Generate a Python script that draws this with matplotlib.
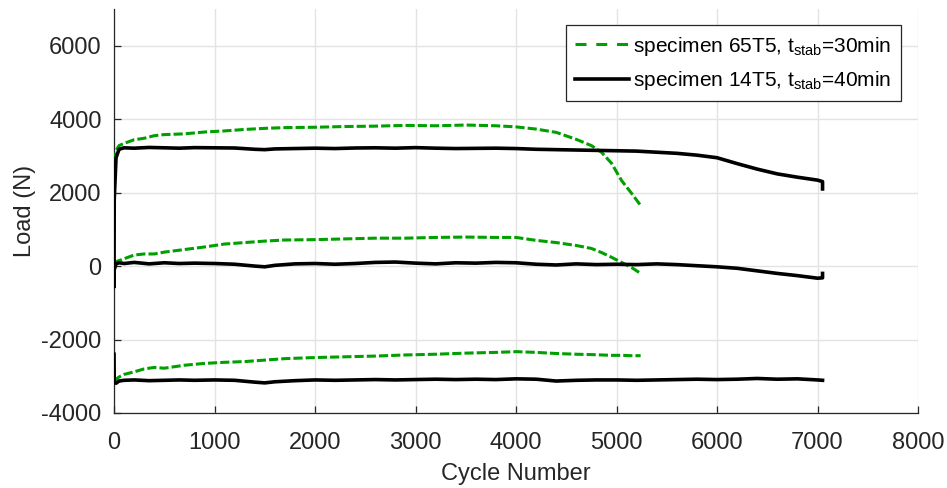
import matplotlib
matplotlib.use("Agg")
import matplotlib.pyplot as plt

# specimen 14T5 (black) - cycle numbers and max / mean / min load
cyc_14 = [0, 2, 20, 50, 100, 200, 350, 500, 650, 800, 1000, 1200, 1400, 1500,
          1600, 1800, 2000, 2200, 2400, 2600, 2800, 3000, 3200, 3400, 3600,
          3800, 4000, 4200, 4400, 4600, 4800, 5000, 5200, 5400, 5600, 5800,
          6000, 6200, 6400, 6600, 6800, 7000, 7050, 7050]
max_14 = [-550, 1800, 2950, 3180, 3220, 3210, 3230, 3220, 3210, 3225, 3220,
          3215, 3180, 3170, 3190, 3200, 3210, 3200, 3215, 3220, 3210, 3225,
          3210, 3200, 3205, 3210, 3200, 3180, 3170, 3160, 3150, 3140, 3130,
          3100, 3070, 3020, 2950, 2790, 2640, 2510, 2420, 2340, 2300, 2100]
mean_14 = [-550, -100, 60, 90, 70, 100, 60, 90, 70, 80, 70, 50, 0, -20, 20,
           60, 70, 50, 70, 100, 110, 80, 60, 90, 80, 100, 90, 50, 30, 60, 40,
           50, 40, 60, 40, 10, -20, -60, -130, -200, -260, -330, -320, -200]
min_14 = [-2400, -3150, -3190, -3130, -3110, -3100, -3120, -3110, -3100,
          -3110, -3100, -3110, -3160, -3180, -3150, -3120, -3100, -3110,
          -3100, -3090, -3100, -3090, -3080, -3090, -3080, -3090, -3070,
          -3080, -3130, -3110, -3100, -3100, -3110, -3100, -3090, -3080,
          -3090, -3080, -3060, -3080, -3070, -3100, -3110, -3110]

# specimen 65T5 (green)
cyc_65 = [0, 20, 50, 100, 200, 300, 400, 500, 700, 900, 1100, 1300, 1500,
          1700, 2000, 2300, 2600, 2900, 3200, 3500, 3800, 4000, 4200, 4400,
          4600, 4750, 4850, 4950, 5050, 5150, 5240]
max_65 = [2840, 3150, 3280, 3340, 3440, 3480, 3550, 3580, 3600, 3650, 3680,
          3720, 3750, 3770, 3780, 3800, 3810, 3830, 3820, 3840, 3820, 3790,
          3730, 3640, 3450, 3280, 3100, 2800, 2330, 1980, 1650]
mean_65 = [60, 120, 150, 200, 300, 330, 330, 380, 450, 520, 600, 640, 680,
           710, 720, 740, 760, 760, 780, 790, 780, 780, 700, 640, 560, 480,
           370, 240, 100, -40, -200]
min_65 = [-3150, -3080, -3020, -2950, -2880, -2800, -2760, -2780, -2700,
          -2650, -2620, -2600, -2560, -2520, -2490, -2470, -2450, -2420,
          -2400, -2370, -2350, -2330, -2350, -2380, -2400, -2410, -2420,
          -2430, -2430, -2440, -2440]

label_65 = r"specimen 65T5, t$_{\mathrm{stab}}$=30min"
label_14 = r"specimen 14T5, t$_{\mathrm{stab}}$=40min"

x_ticks = list(range(0, 8001, 1000))
y_ticks = list(range(-4000, 6001, 2000))

plt.rcParams["font.family"] = ["Liberation Sans", "DejaVu Sans"]
plt.rcParams["mathtext.fontset"] = "custom"
plt.rcParams["mathtext.rm"] = "Liberation Sans"
plt.rcParams["mathtext.it"] = "Liberation Sans"
plt.rcParams["axes.unicode_minus"] = False

fig = plt.figure(figsize=(9.47, 4.88), dpi=100)
ax = fig.add_axes([0.1204, 0.1537, 0.8490, 0.8279])

green = "#00a000"
dash = (3.0, 1.0)
ax.plot(cyc_65, max_65, color=green, lw=2.2, dashes=dash, label=label_65, zorder=3)
ax.plot(cyc_65, mean_65, color=green, lw=2.2, dashes=dash, zorder=3)
ax.plot(cyc_65, min_65, color=green, lw=2.2, dashes=dash, zorder=3)
ax.plot(cyc_14, max_14, color="black", lw=2.6, label=label_14, zorder=4)
ax.plot(cyc_14, mean_14, color="black", lw=2.6, zorder=4)
ax.plot(cyc_14, min_14, color="black", lw=2.6, zorder=4)

ax.set_xlim(0, 8000)
ax.set_ylim(-4000, 7000)
ax.set_xticks(x_ticks)
ax.set_yticks(y_ticks)
ax.grid(True, color="#e3e3e3", lw=1.0)
ax.set_axisbelow(True)
for s in ["top", "right"]:
    ax.spines[s].set_visible(False)
for s in ["left", "bottom"]:
    ax.spines[s].set_color("#262626")
    ax.spines[s].set_linewidth(0.9)
ax.tick_params(direction="in", length=5, width=0.9, colors="#262626",
               labelsize=17)
ax.tick_params(axis="x", pad=14)
ax.tick_params(axis="y", pad=9)
ax.set_xlabel("Cycle Number", fontsize=17, color="#262626", labelpad=6)
ax.set_ylabel("Load (N)", fontsize=17, color="#262626", labelpad=4)

leg = ax.legend(loc="upper right", bbox_to_anchor=(0.979, 0.960),
                borderaxespad=0, fontsize=15, frameon=True, fancybox=False,
                framealpha=1, edgecolor="#262626", handlelength=2.6,
                handletextpad=0.2, borderpad=0.45, labelspacing=0.55)
leg.get_frame().set_linewidth(0.9)
leg.legend_handles[0].set_dashes((3.6, 3.2))

fig.savefig("out.png", dpi=100)
